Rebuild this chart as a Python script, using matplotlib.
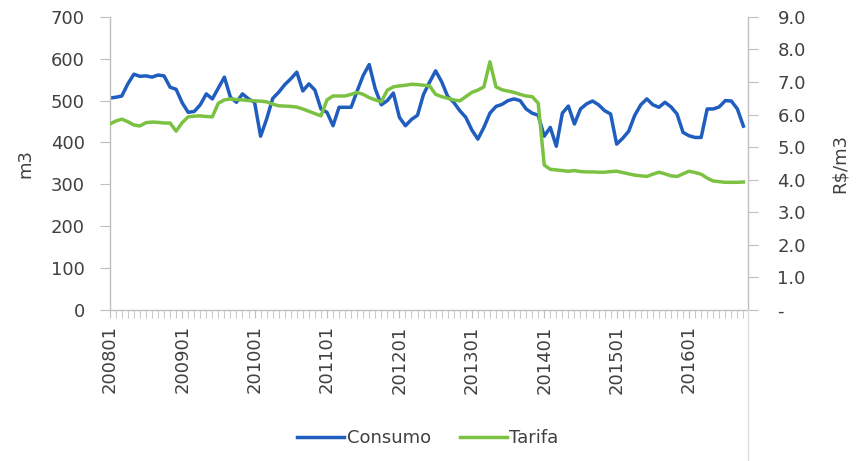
import matplotlib
matplotlib.use("Agg")
import matplotlib.pyplot as plt
import matplotlib.ticker as ticker
from matplotlib.lines import Line2D
import numpy as np

plt.rcParams['font.family'] = ['DejaVu Sans']

# monthly periods 200801 .. 201610
periods = [f"{y}{m:02d}" for y in range(2008, 2017) for m in range(1, 13)][:106]

consumo = [506, 508, 511, 540, 563, 558, 559, 556, 561, 559,
           532, 527, 495, 472, 474, 490, 516, 504, 530, 556,
           508, 496, 516, 504, 496, 415, 456, 505, 520, 538,
           552, 568, 523, 540, 525, 480, 472, 440, 484, 484,
           484, 523, 560, 586, 528, 490, 500, 518, 460, 440,
           455, 465, 515, 544, 571, 545, 510, 496, 476, 460,
           430, 408, 436, 470, 486, 491, 500, 504, 500, 480,
           470, 465, 415, 436, 391, 470, 487, 444, 480, 492,
           499, 490, 476, 468, 396, 410, 427, 465, 490, 504,
           490, 484, 496, 485, 468, 424, 416, 412, 412, 480,
           480, 485, 500, 499, 480, 439]

tarifa = [5.71, 5.80, 5.86, 5.78, 5.68, 5.65, 5.75, 5.77, 5.76, 5.74,
          5.74, 5.49, 5.75, 5.93, 5.95, 5.96, 5.94, 5.93, 6.35, 6.45,
          6.48, 6.46, 6.45, 6.43, 6.42, 6.41, 6.39, 6.32, 6.27, 6.26,
          6.25, 6.23, 6.17, 6.10, 6.03, 5.96, 6.45, 6.57, 6.57, 6.57,
          6.62, 6.68, 6.62, 6.52, 6.45, 6.39, 6.75, 6.85, 6.88, 6.90,
          6.93, 6.92, 6.90, 6.88, 6.62, 6.55, 6.50, 6.45, 6.42, 6.55,
          6.68, 6.75, 6.85, 7.62, 6.85, 6.76, 6.72, 6.68, 6.62, 6.57,
          6.55, 6.35, 4.45, 4.32, 4.30, 4.28, 4.26, 4.28, 4.25, 4.24,
          4.24, 4.23, 4.23, 4.25, 4.26, 4.22, 4.18, 4.14, 4.12, 4.10,
          4.17, 4.23, 4.18, 4.12, 4.10, 4.18, 4.26, 4.22, 4.17, 4.05,
          3.96, 3.94, 3.92, 3.92, 3.92, 3.93]

blue = "#1F5DBF"
green = "#7CC242"
grey = "#BFBFBF"
txt = "#404040"

fig = plt.figure(figsize=(8.64, 4.61), dpi=100)
ax = fig.add_axes([0.127, 0.3275, 0.739, 0.636])
ax2 = ax.twinx()

x = np.arange(len(periods))
l1, = ax.plot(x, consumo, color=blue, lw=2.5, solid_joinstyle='round', label="Consumo")
l2, = ax2.plot(x, tarifa, color=green, lw=2.5, solid_joinstyle='round', label="Tarifa")

ax.set_xlim(0, 105.8)
ax.set_ylim(0, 700)
ax2.set_ylim(0, 9)
ax.set_yticks(range(0, 701, 100))
ax2.set_yticks(np.arange(0, 9.1, 1))
ax2.yaxis.set_major_formatter(ticker.FuncFormatter(lambda v, p: "-" if v == 0 else f"{v:.1f}"))

ax.set_xticks(x[::12])
ax.set_xticklabels(periods[::12], rotation=90)
ax.set_xticks(x, minor=True)

for a in (ax, ax2):
    for s in a.spines.values():
        s.set_visible(False)
ax.spines['left'].set_visible(True)
ax.spines['bottom'].set_visible(True)
ax2.spines['right'].set_visible(True)
for s in (ax.spines['left'], ax.spines['bottom'], ax2.spines['right']):
    s.set_color(grey)
    s.set_linewidth(1)

ax.tick_params(axis='y', colors=grey, labelcolor=txt, labelsize=13, length=7, pad=11)
ax2.tick_params(axis='y', colors=grey, labelcolor=txt, labelsize=13, length=7, pad=14)
ax.tick_params(axis='x', which='both', colors=grey, labelcolor=txt, labelsize=13, length=6, pad=5)

ax.set_ylabel("m3", color=txt, fontsize=13, labelpad=12)
ax2.set_ylabel("R$/m3", color=txt, fontsize=13, labelpad=18)

# faint vertical border under the right axis, as in the source image
fig.add_artist(Line2D([0.866, 0.866], [0.0, 0.3275], transform=fig.transFigure,
                      color="#E0E0E0", lw=1))

fig.legend([l1, l2], ["Consumo", "Tarifa"], loc='center', bbox_to_anchor=(0.495, 0.05),
           ncol=2, frameon=False, fontsize=13, handlelength=2.6, columnspacing=1.6,
           handletextpad=0.15, labelcolor=txt)

fig.savefig("out.png", dpi=100, facecolor="white")
